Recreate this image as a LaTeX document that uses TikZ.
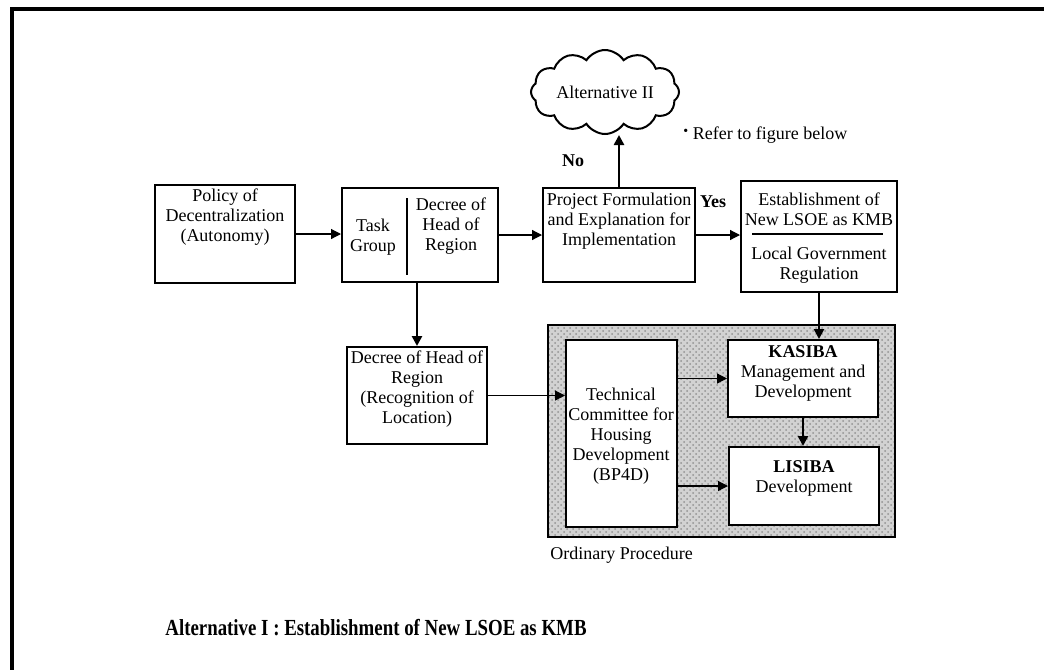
\documentclass[tikz,border=0pt]{standalone}
\usepackage{fontspec}
\setmainfont{Liberation Serif}
\usetikzlibrary{arrows.meta,fit,shapes.symbols,patterns}
\begin{document}
\begin{tikzpicture}[x=0.5pt,y=-0.5pt,line cap=butt,line join=miter,>={Triangle[length=5pt,width=5pt]},font=\fontsize{9}{10}\selectfont]
	\tikzset{box/.style={draw,line width=1pt,inner sep=0pt},
		txt/.style={align=center,inner sep=0pt},
		lbl/.style={inner sep=0pt,font=\fontsize{9}{10}\selectfont\bfseries},
		thin arrow/.style={->,line width=0.6pt},
		thick arrow/.style={->,line width=1.3pt}}
	\useasboundingbox (0,0) rectangle (1044,670);
	\draw[line width=1.6pt] (1044,9) -- (12,9) -- (12,670);
	%--------- upper row
	\node[box,fit={(155,185) (295,283)}] (policy) {};
	\node[txt] (policytxt) at (225,217) {Policy of\\Decentralization\\(Autonomy)};
	\node[box,fit={(342,188) (498,282)}] (task) {};
	\draw[line width=1pt] (407,198) -- (407,275);
	\node[txt] (tasktxt) at (373,237) {Task\\Group};
	\node[txt] (decreetxt) at (451,226) {Decree of\\Head of\\Region};
	\node[box,fit={(543,188) (695,282)}] (project) {};
	\node[txt] (projecttxt) at (619,221) {Project Formulation\\and Explanation for\\Implementation};
	\node[box,fit={(741,181) (897,292)}] (estab) {};
	\node[txt] (estabtxt) at (819,209) {Establishment of\\New LSOE as KMB};
	\draw[line width=1pt] (752,234) -- (883,234);
	\node[txt] (regtxt) at (819,265) {Local Government\\Regulation};
	\node[cloud,draw,line width=1pt,cloud puffs=12,cloud puff arc=115,cloud ignores aspect,minimum width=74pt,minimum height=42pt,inner sep=0pt] (alt2) at (605,92) {Alternative II};
	\node[lbl] (no) at (573,161) {No};
	\node[lbl] (yes) at (713,202) {Yes};
	\node[inner sep=0pt,anchor=west] (refer) at (683,135) {\raisebox{2pt}{\scriptsize\textbullet}~Refer to figure below};
	%--------- lower part
	\node[box,fit={(347,347) (487,444)}] (recog) {};
	\node[txt] (recogtxt) at (417,389) {Decree of Head of\\Region\\(Recognition of\\Location)};
	\node[box,fit={(548,325) (895,537)},preaction={fill=gray!35},pattern=crosshatch dots,pattern color=gray!85] (ordinary) {};
	\node[inner sep=0pt,anchor=west] (ordinarytxt) at (550,555) {Ordinary Procedure};
	\node[box,fill=white,fit={(566,340) (677,527)}] (tech) {};
	\node[txt] (techtxt) at (621,436) {Technical\\Committee for\\Housing\\Development\\(BP4D)};
	\node[box,fill=white,fit={(728,340) (878,417)}] (kasiba) {};
	\node[txt] (kasibatxt) at (803,373) {\textbf{KASIBA}\\Management and\\Development};
	\node[box,fill=white,fit={(729,447) (879,525)}] (lisiba) {};
	\node[txt] (lisibatxt) at (804,478) {\textbf{LISIBA}\\Development};
	%--------- arrows
	\draw[thin arrow] (policy.east) -- (policy.east -| task.west);
	\draw[thin arrow] (task.east) -- (task.east -| project.west);
	\draw[thin arrow] (project.east) -- (project.east -| estab.west);
	\draw[thick arrow] (project.north) -- (project.north |- alt2.south);
	\draw[thick arrow] (task.south -| recog.north) -- (recog.north);
	\draw[thin arrow] (recog.east) -- (recog.east -| tech.west);
	\draw[thick arrow] (estab.south) -- (estab.south |- kasiba.north);
	\draw[thin arrow] (kasiba.west -| tech.east) -- (kasiba.west);
	\draw[thin arrow] (lisiba.west -| tech.east) -- (lisiba.west);
	\draw[thick arrow] (kasiba.south) -- (kasiba.south |- lisiba.north);
	%--------- title
	\node[inner sep=0pt,font=\fontsize{11.5}{13}\selectfont\bfseries] (title) at (376,628) {\scalebox{0.82}[1]{Alternative I : Establishment of New LSOE as KMB}};
\end{tikzpicture}
\end{document}
